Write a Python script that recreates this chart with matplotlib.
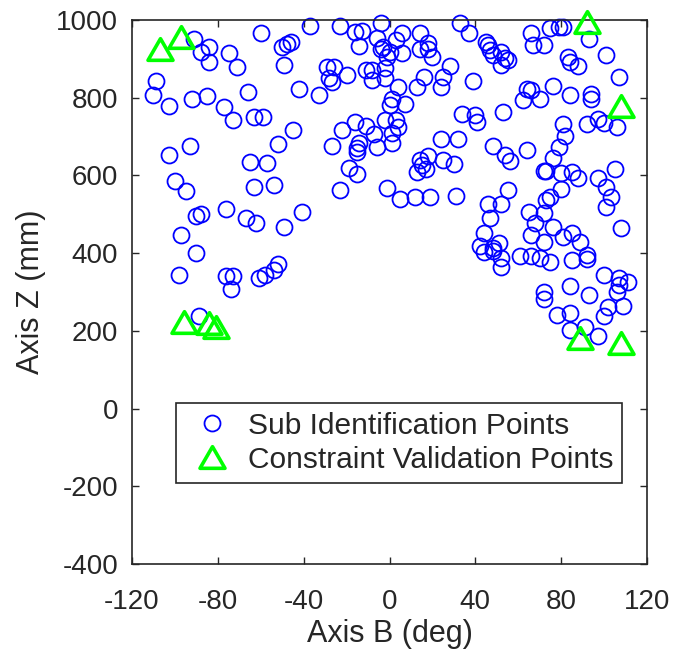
# ---------- IMPORT ------------
import matplotlib
matplotlib.use("Agg")
import matplotlib.pyplot as plt
from matplotlib.path import Path
# ------------------------------


# ---------- DATA --------------
# sub identification points (axis B in deg, axis Z in mm)
b_sub = [-91, -84, -88, -84, -75, -71, -60, -50, -48, -46, -49,
         -109, -110, -103, -92, -85, -77, -73, -66, -63, -59, -45,
         -93, -103, -52, -65, -57, -100, -95, -63, -54,
         -90, -88, -76, -67, -62, -49, -97, -90, -98, -76, -73, -74,
         -61, -58, -54, -52, -89,
         -37, -23, -16, -13, -4, 33, 14, 6, -6, -14, 3, -4, -3, 0, -1,
         6, 14, 18, 18, 20, -29, -26, -28, -27, -20, -11, -8, -8, -2,
         -2, 28, 25, 24, 16, 13, 4, -42, -33, 1, 0, 7, 34, -16, -11,
         -22, -2, 3, 4, -7, 1, -14, -15, -15, -6, 1, -27, 24, 32, 14,
         18, 15, 13, 17, 25, 30, -19, -15, -23, -1, 5, 12, 19, 31, -41,
         37, 45, 46, 47, 48, 52, 54, 55, 52, 66, 67, 72, 75, 79, 81,
         93, 83, 84, 88, 101, 107, 39, 64, 66, 62, 70, 76, 84, 94, 94,
         40, 41, 53, 81, 82, 92, 97, 100, 106, 48, 54, 56, 64, 79, 76,
         72, 73, 80, 85, 88, 97, 105, 55, 101,
         52, 46, 47, 44, 42, 44, 48, 51, 52, 52, 48, 103, 101, 75, 73,
         80, 65, 72, 68, 76, 66, 72, 81, 85, 89, 61, 66, 70, 75, 85,
         92, 92, 108, 100, 107, 111, 107, 106, 84, 72, 72, 93, 78, 84,
         102, 100, 109, 84, 91, 97]
z_sub = [950, 931, 918, 893, 914, 878, 967, 931, 938, 943, 884,
         844, 807, 779, 796, 804, 777, 743, 815, 751, 751, 718,
         676, 653, 680, 634, 633, 585, 559, 571, 575,
         496, 501, 513, 490, 477, 467, 447, 400, 344, 341, 342, 307,
         335, 344, 357, 372, 238,
         985, 985, 970, 972, 992, 992, 967, 967, 953, 933, 949, 925, 931, 918, 906,
         916, 925, 940, 925, 906, 880, 880, 850, 841, 858, 871, 871, 846, 876,
         850, 882, 854, 828, 854, 827, 827, 822, 807, 796, 781, 784, 758, 738, 727,
         717, 743, 743, 725, 707, 708, 683, 670, 661, 672, 683, 676, 693, 694, 640,
         650, 627, 610, 616, 640, 629, 618, 603, 562, 568, 539, 544, 545, 547, 505,
         966, 944, 936, 923, 910, 918, 901, 897, 884, 967, 936, 936, 979, 983, 983,
         950, 906, 893, 882, 910, 854, 844, 822, 820, 794, 796, 830, 807, 810, 796,
         756, 738, 764, 732, 701, 732, 744, 734, 724, 676, 653, 638, 665, 674, 644,
         612, 612, 605, 610, 593, 593, 616, 562, 569,
         526, 526, 490, 453, 418, 404, 412, 425, 387, 365, 406, 545, 518, 545, 537,
         564, 507, 504, 478, 467, 447, 429, 441, 453, 429, 393, 393, 387, 378, 382,
         395, 384, 464, 344, 335, 327, 318, 301, 315, 301, 281, 292, 241, 245,
         262, 238, 264, 202, 209, 187]

# constraint validation points
b_val = [-107, -97, -96, -84, -81, 92, 108, 89, 108]
z_val = [925, 957, 224, 219, 211, 996, 779, 181, 170]

x_ticks = [-120, -80, -40, 0, 40, 80, 120]
y_ticks = [-400, -200, 0, 200, 400, 600, 800, 1000]
# ------------------------------


# ---------- CONFIG ------------
plt.rcParams['font.family'] = ['Liberation Sans', 'DejaVu Sans']
plt.rcParams['axes.unicode_minus'] = False
dark = "#262626"
tri = Path([(0, 0.866), (-1, -0.866), (1, -0.866), (0, 0.866)],
           [Path.MOVETO, Path.LINETO, Path.LINETO, Path.CLOSEPOLY])
# ------------------------------


fig = plt.figure(figsize=(6.75, 6.64), dpi=100)
ax = fig.add_axes([0.1956, 0.1506, 0.7629, 0.8193])

ax.plot(b_sub, z_sub, linestyle="none", marker="o", markersize=11.5,
        markerfacecolor="none", markeredgecolor="#0000ff", markeredgewidth=1.3,
        label="Sub Identification Points", clip_on=False)
ax.plot(b_val, z_val, linestyle="none", marker=tri, markersize=18,
        markerfacecolor="none", markeredgecolor="#00ff00", markeredgewidth=2.6,
        label="Constraint Validation Points", clip_on=False, zorder=3)

ax.set_xlim(-120, 120)
ax.set_ylim(-400, 1000)
ax.set_xticks(x_ticks)
ax.set_yticks(y_ticks)
ax.tick_params(direction="in", top=True, right=True, length=5, width=1,
               labelsize=20, colors=dark)
ax.tick_params(axis="x", pad=18)
ax.tick_params(axis="y", pad=10)
for s in ax.spines.values():
    s.set_color(dark)
    s.set_linewidth(1.2)

ax.set_xlabel("Axis B (deg)", fontsize=22, color=dark, labelpad=3)
ax.set_ylabel("Axis Z (mm)", fontsize=22, color=dark, labelpad=7)

leg = ax.legend(loc="upper left", bbox_to_anchor=(0.0854, 0.296), borderaxespad=0,
                fontsize=21.5, fancybox=False, framealpha=1, edgecolor=dark,
                handlelength=1.8, handletextpad=0.3, labelspacing=0.2, borderpad=0.3)
leg.get_frame().set_linewidth(1.2)
for t in leg.get_texts():
    t.set_color(dark)

fig.savefig("out.png", dpi=100)
